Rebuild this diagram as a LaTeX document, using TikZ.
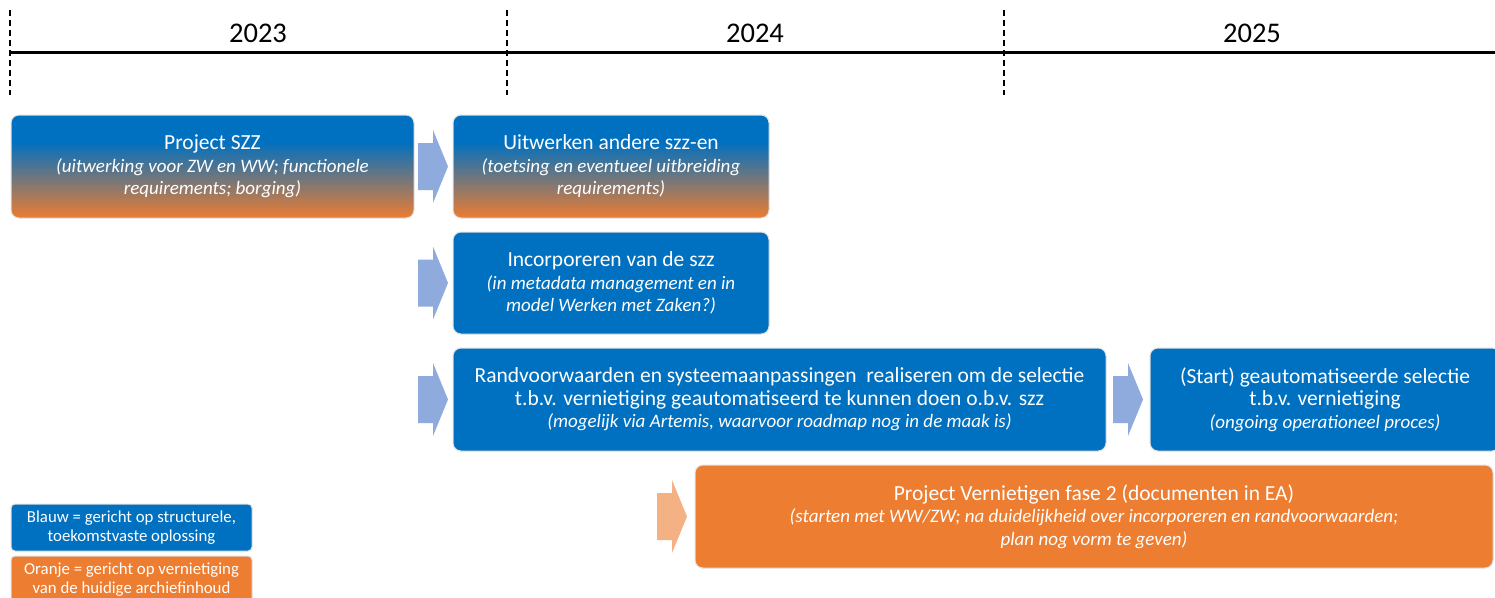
\documentclass[tikz,border=0pt]{standalone}
\usepackage{fontspec}
\setmainfont{Carlito}
\usetikzlibrary{calc}
\definecolor{pblue}{HTML}{0070C0}
\definecolor{porange}{HTML}{ED7D31}
\definecolor{ablue}{HTML}{8FAADC}
\definecolor{aorange}{HTML}{F4B183}
\pgfdeclareverticalshading{bluorange}{100bp}{color(0bp)=(porange); color(25bp)=(porange); color(62bp)=(pblue); color(100bp)=(pblue)}
\newcommand\subl[1]{{\fontsize{19}{22.5}\selectfont\itshape #1}}
\begin{document}
\begin{tikzpicture}[x=1pt,y=-1pt,
  box/.style={rectangle, rounded corners=8pt, draw=black!12, line width=1pt, text=white,
    align=center, inner sep=0pt, font=\fontsize{21.5}{22.5}\selectfont},
  bluebox/.style={box, fill=pblue},
  orangebox/.style={box, fill=porange},
  gradbox/.style={box, shade, shading=bluorange},
  legendbox/.style={rectangle, rounded corners=4pt, draw=black!12, line width=1pt, text=white,
    align=center, inner sep=0pt, font=\fontsize{16.8}{19.5}\selectfont, minimum width=241pt, minimum height=47pt},
  barrow/.pic={\fill[pic actions] (-15,-23.5) -- (0,-23.5) -- (0,-36.5) -- (15,0) -- (0,36.5) -- (0,23.5) -- (-15,23.5) -- cycle;},
  yearline/.style={line width=3pt, black},
  divider/.style={line width=1.3pt, dash pattern=on 6pt off 4pt, black},
  yearlabel/.style={font=\fontsize{28.5}{30}\selectfont, inner sep=0pt}]
\clip (0,0) rectangle (1495,597);
\fill[white] (0,0) rectangle (1495,597);
% timeline
\coordinate (t0) at (10,52);
\coordinate (t1) at (1495,52);
\draw[yearline] (t0) -- (t1);
\coordinate (d0a) at (10,10); \coordinate (d0b) at (10,95);
\coordinate (d1a) at (507,10); \coordinate (d1b) at (507,95);
\coordinate (d2a) at (1004,10); \coordinate (d2b) at (1004,95);
\draw[divider] (d0a) -- (d0b);
\draw[divider] (d1a) -- (d1b);
\draw[divider] (d2a) -- (d2b);
\node[yearlabel] (y23) at (258,33) {2023};
\node[yearlabel] (y24) at (755,33) {2024};
\node[yearlabel] (y25) at (1252,33) {2025};
% boxes
\node[gradbox, minimum width=403pt, minimum height=103pt] (A) at (212.5,166.5)
  {Project SZZ\\ \subl{(uitwerking voor ZW en WW; functionele}\\ \subl{requirements; borging)}};
\node[gradbox, minimum width=316pt, minimum height=103pt] (B) at (611,166.5)
  {Uitwerken andere szz-en\\ \subl{(toetsing en eventueel uitbreiding}\\ \subl{requirements)}};
\node[bluebox, minimum width=316pt, minimum height=102pt] (C) at (611,283)
  {Incorporeren van de szz\\ \subl{(in metadata management en in}\\ \subl{model Werken met Zaken?)}};
\node[bluebox, minimum width=653pt, minimum height=103pt] (D) at (779.5,399.5)
  {Randvoorwaarden en systeemaanpassingen\ \ realiseren om de selectie\\ t.b.v. vernietiging geautomatiseerd te kunnen doen o.b.v. szz\\ \subl{(mogelijk via Artemis, waarvoor roadmap nog in de maak is)}};
\node[bluebox, minimum width=350pt, minimum height=103pt] (E) at (1325,399.5)
  {(Start) geautomatiseerde selectie\\ t.b.v. vernietiging\\ \subl{(ongoing operationeel proces)}};
\node[orangebox, minimum width=798pt, minimum height=103pt] (F) at (1094,516.5)
  {Project Vernietigen fase 2 (documenten in EA)\\ \subl{(starten met WW/ZW; na duidelijkheid over incorporeren en randvoorwaarden;}\\ \subl{plan nog vorm te geven)}};
% arrows
\pic[fill=ablue] (a1) at (433,166.5) {barrow};
\pic[fill=ablue] (a2) at (433,283) {barrow};
\pic[fill=ablue] (a3) at (433,399.5) {barrow};
\pic[fill=ablue] (a4) at (1128,399.5) {barrow};
\pic[fill=aorange] (a5) at (672,516.5) {barrow};
% legend
\node[legendbox, fill=pblue] (L1) at (131.5,527.5) {Blauw = gericht op structurele,\\ toekomstvaste oplossing};
\node[legendbox, fill=porange] (L2) at (131.5,579.5) {Oranje = gericht op vernietiging\\ van de huidige archiefinhoud};
\end{tikzpicture}
\end{document}
